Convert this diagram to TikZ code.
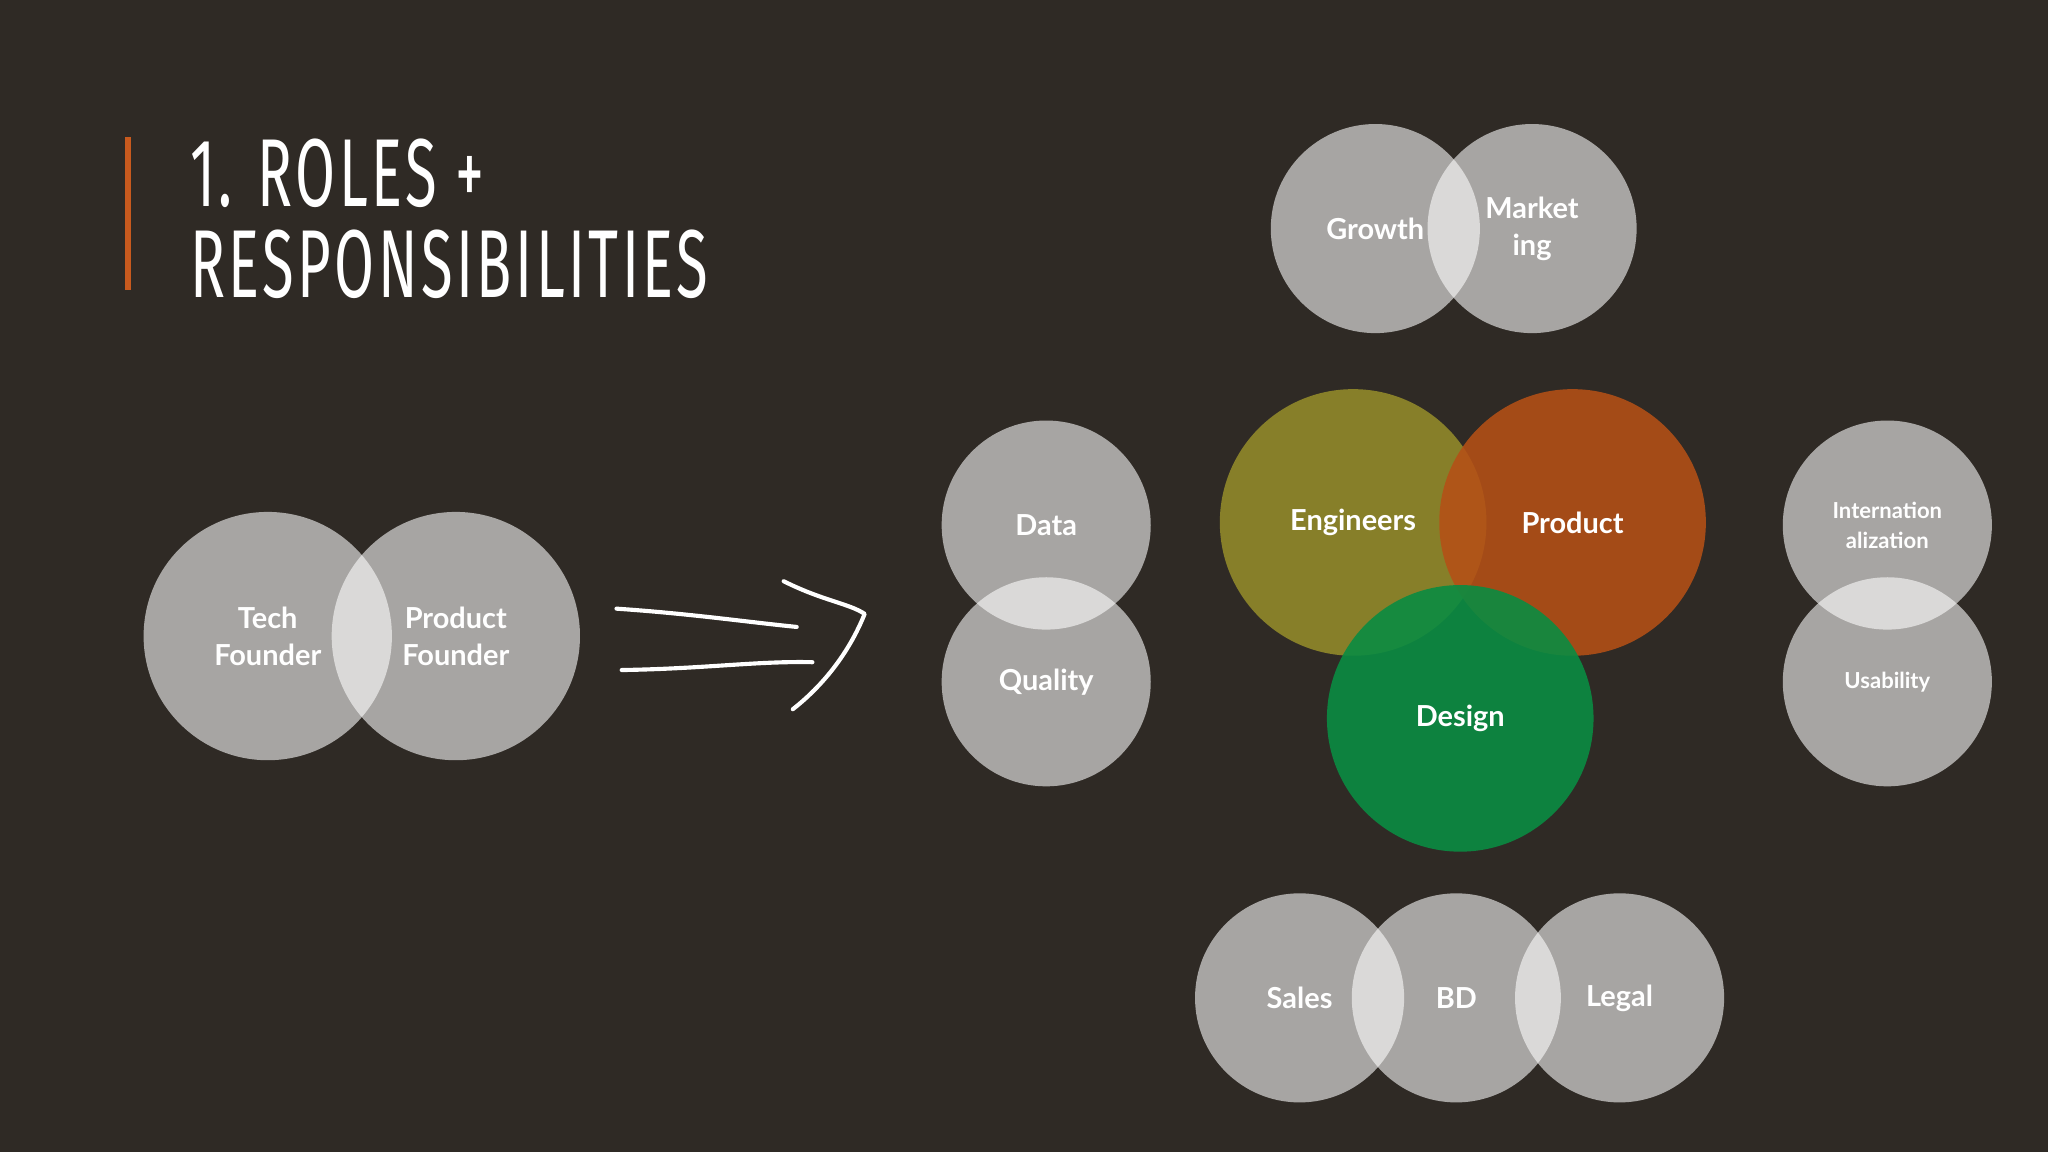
\documentclass[tikz,border=0pt]{standalone}
\usepackage{fontspec}
\setmainfont{Lato}
\newfontfamily\titlefont[LetterSpace=6]{Fira Sans}
\definecolor{bg}{RGB}{47,42,37}
\definecolor{accent}{RGB}{200,90,30}
\definecolor{olive}{RGB}{140,132,42}
\definecolor{rust}{RGB}{168,72,26}
\definecolor{dgreen}{RGB}{10,140,66}
\tikzset{
  gc/.style={circle,fill=white,fill opacity=0.58,text opacity=1,minimum size=#1,inner sep=0pt},
  cc/.style={circle,minimum size=2.04cm,inner sep=0pt},
  lbl/.style={text=white,font=\bfseries\fontsize{6.3}{8}\selectfont,align=center},
  slbl/.style={text=white,font=\bfseries\fontsize{4.8}{6.5}\selectfont,align=center},
  hand/.style={white,line width=0.9pt,line cap=round,line join=round}
}
\begin{document}
\begin{tikzpicture}[x=0.01cm,y=-0.01cm]
\fill[bg] (0,0) rectangle (1568,882);
\useasboundingbox (0,0) rectangle (1568,882);
% title
\draw[accent,line width=1.2pt] (98,105) -- (98,222);
\node[anchor=west,text=white,inner sep=0pt] (t1) at (145,133) {\titlefont\fontsize{21}{24}\selectfont\scalebox{0.6}[1]{1. ROLES +}};
\node[anchor=west,text=white,inner sep=0pt] (t2) at (145,202) {\titlefont\fontsize{21}{24}\selectfont\scalebox{0.6}[1]{RESPONSIBILITIES}};
% founders
\node[gc=1.9cm] (tf) at (205,487) {};
\node[gc=1.9cm] (pf) at (349,487) {};
\node[lbl] at (205,487) {Tech\\Founder};
\node[lbl] at (349,487) {Product\\Founder};
% growth
\node[gc=1.6cm] (gr) at (1053,175) {};
\node[gc=1.6cm] (mk) at (1173,175) {};
\node[lbl] at (1053,175) {Growth};
\node[lbl] at (1173,175) {Market\\ing};
% data
\node[gc=1.6cm] (da) at (801,402) {};
\node[gc=1.6cm] (qu) at (801,522) {};
\node[lbl] at (801,402) {Data};
\node[lbl] at (801,522) {Quality};
% intl
\node[gc=1.6cm] (in) at (1445,402) {};
\node[gc=1.6cm] (us) at (1445,522) {};
\node[slbl] at (1445,402) {Internation\\alization};
\node[slbl] at (1445,522) {Usability};
% sales
\node[gc=1.6cm] (sa) at (995,764) {};
\node[gc=1.6cm] (bd) at (1115,764) {};
\node[gc=1.6cm] (le) at (1240,764) {};
\node[lbl] at (995,764) {Sales};
\node[lbl] at (1115,764) {BD};
\node[lbl] at (1240,764) {Legal};
% core
\node[cc,fill=olive,fill opacity=0.95] (en) at (1036,400) {};
\node[cc,fill=rust!85!orange,fill opacity=0.88] (pr) at (1204,400) {};
\node[cc,fill=dgreen,fill opacity=0.9] (de) at (1118,550) {};
\node[lbl] at (1036,400) {Engineers};
\node[lbl] at (1204,400) {Product};
\node[lbl] at (1118,550) {Design};
% hand arrow
\coordinate (a1) at (472,466);
\coordinate (a2) at (610,480);
\coordinate (b1) at (476,513);
\coordinate (b2) at (622,507);
\coordinate (c1) at (600,445);
\coordinate (c2) at (662,470);
\coordinate (c3) at (607,543);
\draw[hand] (a1) .. controls (530,470) and (570,476) .. (a2);
\draw[hand] (b1) .. controls (540,512) and (580,506) .. (b2);
\draw[hand] (c1) .. controls (630,460) and (650,462) .. (c2) .. controls (650,500) and (630,525) .. (c3);
\end{tikzpicture}
\end{document}
